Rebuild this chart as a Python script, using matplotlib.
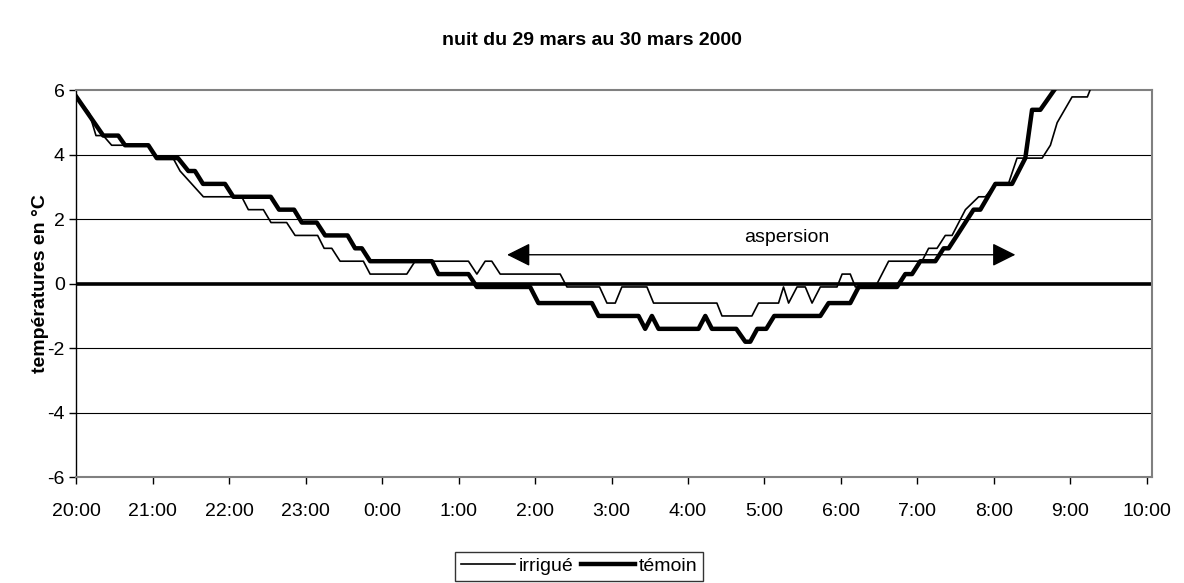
import matplotlib
matplotlib.use("Agg")
import matplotlib.pyplot as plt

plt.rcParams['font.family'] = ['Liberation Sans', 'DejaVu Sans']
plt.rcParams['axes.unicode_minus'] = False

# minutes after 20:00 and temperature (°C) at each corner of the curves
irrigue_t = [0, 10, 15.3, 21, 27.6, 56.4, 63, 75.8, 81.3, 99.6, 129.7, 134.9,
             146.7, 152.7, 165, 171.6, 189.3, 194.4, 200.4, 206.9, 225.2, 230.5,
             259.3, 265.8, 307.7, 314.3, 320.8, 326, 332.6, 379.7, 385, 410.6,
             416.4, 422.9, 428.1, 447.8, 453, 502.7, 506.7, 530.2, 535.4, 551.1,
             555, 559, 565.6, 572.1, 577.4, 583.9, 597, 601, 607.4, 611.4, 627.1,
             637.5, 663.7, 668.9, 675.5, 682, 687.3, 697.8, 708.2, 713.5, 721.3,
             731.5, 738.3, 758, 764.5, 769.8, 781.5, 793.5, 797.5]
irrigue_v = [5.8, 5.3, 4.6, 4.6, 4.3, 4.3, 3.9, 3.9, 3.5, 2.7, 2.7, 2.3,
             2.3, 1.9, 1.9, 1.5, 1.5, 1.1, 1.1, 0.7, 0.7, 0.3,
             0.3, 0.7, 0.7, 0.3, 0.7, 0.7, 0.3, 0.3, -0.1, -0.1,
             -0.6, -0.6, -0.1, -0.1, -0.6, -0.6, -1.0, -1.0, -0.6, -0.6,
             -0.1, -0.6, -0.1, -0.1, -0.6, -0.1, -0.1, 0.3, 0.3, -0.1, -0.1,
             0.7, 0.7, 1.1, 1.1, 1.5, 1.5, 2.3, 2.7, 2.7, 3.1,
             3.1, 3.9, 3.9, 4.3, 5.0, 5.8, 5.8, 6.2]

temoin_t = [0, 21, 32.8, 38.1, 56.4, 63, 79.7, 87.8, 93, 99.3, 116.6, 123.1,
            152.5, 159, 170.8, 176.9, 188.6, 195.2, 212.8, 218.7, 224, 230.5,
            279, 284.1, 307.7, 314.3, 356.1, 362.6, 404.6, 409.8, 441.2, 446.4,
            451.7, 456.9, 488.3, 493.6, 498.8, 517.9, 525, 528.9, 534.4, 541.5,
            547.7, 583.9, 590.4, 607.4, 614, 644.1, 650.6, 655.9, 662.4, 674.2,
            680.7, 684.6, 691.2, 704.2, 709.5, 721.3, 734.4, 744.8, 750.1, 756.6,
            770.8]
temoin_v = [5.8, 4.6, 4.6, 4.3, 4.3, 3.9, 3.9, 3.5, 3.5, 3.1, 3.1, 2.7,
            2.7, 2.3, 2.3, 1.9, 1.9, 1.5, 1.5, 1.1, 1.1, 0.7,
            0.7, 0.3, 0.3, -0.1, -0.1, -0.6, -0.6, -1.0, -1.0, -1.4,
            -1.0, -1.4, -1.4, -1.0, -1.4, -1.4, -1.8, -1.8, -1.4, -1.4,
            -1.0, -1.0, -0.6, -0.6, -0.1, -0.1, 0.3, 0.3, 0.7, 0.7,
            1.1, 1.1, 1.5, 2.3, 2.3, 3.1, 3.1, 3.9, 5.4, 5.4,
            6.2]

hour_labels = ['20:00', '21:00', '22:00', '23:00', '0:00', '1:00', '2:00', '3:00',
               '4:00', '5:00', '6:00', '7:00', '8:00', '9:00', '10:00']
aspersion_start = 338   # 1:38
aspersion_end = 737     # 8:17
aspersion_level = 0.9

fig = plt.figure(figsize=(11.84, 5.83), dpi=100)
ax = fig.add_axes([0.0646, 0.1818, 0.9081, 0.663])

ax.set_xlim(0, 844)
ax.set_ylim(-6, 6)

for y in [-4, -2, 2, 4]:
    ax.axhline(y, color='black', lw=0.8, zorder=1)
ax.axhline(0, color='black', lw=2.6, zorder=2)

ax.plot(irrigue_t, irrigue_v, color='black', lw=1.2, label='irrigué', zorder=3)
ax.plot(temoin_t, temoin_v, color='black', lw=3.2, label='témoin', zorder=4)

ax.annotate('', xy=(aspersion_end, aspersion_level), xytext=(aspersion_start, aspersion_level),
            arrowprops=dict(arrowstyle='<|-|>,head_length=0.8,head_width=0.4',
                            mutation_scale=18, lw=1, color='black',
                            shrinkA=0, shrinkB=0))
ax.text((aspersion_start + aspersion_end) / 2 + 20, 1.43, 'aspersion',
        ha='center', va='center', fontsize=14)

ax.set_xticks(range(0, 60 * len(hour_labels), 60))
ax.set_xticklabels(hour_labels)
ax.set_yticks(range(-6, 7, 2))
ax.tick_params(labelsize=14, length=5, width=1, direction='out', color='black')
ax.tick_params(axis='x', pad=14)

for side in ['top', 'right', 'bottom']:
    ax.spines[side].set_color('#808080')
    ax.spines[side].set_linewidth(1.5)
ax.spines['left'].set_color('black')
ax.spines['left'].set_linewidth(1)

fig.text(0.5, 0.93, 'nuit du 29 mars au 30 mars 2000', ha='center', va='center',
         fontsize=14, fontweight='bold')
fig.text(0.034, 0.513, 'températures en °C', rotation=90, ha='center', va='center',
         fontsize=14, fontweight='bold')

leg = fig.legend(loc='lower center', bbox_to_anchor=(0.489, 0.0), ncol=2,
                 fontsize=14, frameon=True, fancybox=False, edgecolor='black',
                 handlelength=2.8, handletextpad=0.15, columnspacing=0.4,
                 borderpad=0.3, borderaxespad=0.1)
leg.get_frame().set_linewidth(1)

fig.savefig('out.png', dpi=100)
